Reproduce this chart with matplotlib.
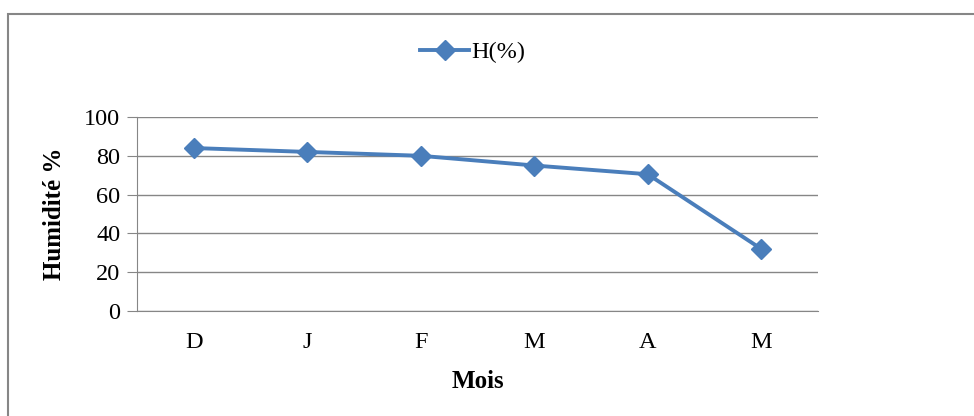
import matplotlib.pyplot as plt
from matplotlib.patches import Rectangle

mois = ["D", "J", "F", "M", "A", "M"]
humidite = [84, 82, 80, 75, 70.5, 32]
yticks = [0, 20, 40, 60, 80, 100]

plt.rcParams['font.family'] = ['Liberation Serif', 'DejaVu Serif']

fig = plt.figure(figsize=(9.74, 4.16), dpi=100)
fig.patches.append(Rectangle((8 / 974, -0.1), 1.2, 1 - 14 / 416 + 0.1,
                             transform=fig.transFigure, fill=False,
                             edgecolor="#868686", linewidth=1.5))

ax = fig.add_axes([137 / 974, 105 / 416, 681 / 974, 194 / 416])
x = range(len(mois))
ax.plot(x, humidite, color="#4A7EBB", linewidth=2.8, marker="D",
        markersize=10, label="H(%)")

ax.set_xlim(-0.5, len(mois) - 0.5)
ax.set_ylim(0, 100)
ax.set_yticks(yticks)
ax.set_xticks(list(x))
ax.set_xticklabels(mois)
ax.tick_params(axis="x", length=0, labelsize=17.5, pad=15)
ax.tick_params(axis="y", length=7, color="#868686", labelsize=17.5, pad=5)
ax.grid(axis="y", color="#868686", linewidth=1)
ax.set_axisbelow(True)
for s in ["top", "right"]:
    ax.spines[s].set_visible(False)
ax.spines["left"].set_color("#868686")
ax.spines["bottom"].set_color("#868686")

ax.set_xlabel("Mois", fontsize=18, fontweight="bold", labelpad=12)
ax.set_ylabel("Humidité %", fontsize=18, fontweight="bold", labelpad=13)

fig.legend(loc="center", bbox_to_anchor=(473 / 974, 1 - 52 / 416),
           frameon=False, fontsize=17.5, handlelength=2.0, handletextpad=0.1)

fig.savefig("out.png", dpi=100)
